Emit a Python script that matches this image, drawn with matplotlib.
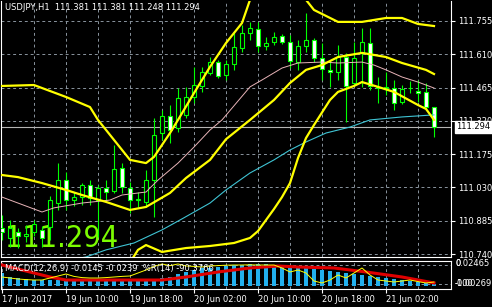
import matplotlib
matplotlib.use('Agg')
import matplotlib.pyplot as plt
import matplotlib.transforms as mtransforms
from matplotlib import font_manager

header = 'USDJPY,H1  111.381 111.381 111.248 111.294'
macd_caption = 'MACD(12,26,9) -0.0145 -0.0239  %R(14) -90.3766'
last_price = 111.294

# hourly candles
opens = [110.853, 110.810, 110.836, 110.819, 110.836, 110.845, 110.858, 110.962, 111.062, 110.975,
         110.988, 111.041, 110.975, 111.028, 111.015, 111.115, 111.028, 110.975, 110.967, 111.062,
         111.267, 111.341, 111.289, 111.346, 111.424, 111.472, 111.529, 111.576, 111.520, 111.568,
         111.637, 111.703, 111.720, 111.646, 111.664, 111.690, 111.664, 111.576, 111.646, 111.672,
         111.594, 111.542, 111.533, 111.598, 111.485, 111.616, 111.659, 111.468, 111.463, 111.463,
         111.402, 111.463, 111.450, 111.446, 111.381]
highs = [110.910, 110.888, 110.853, 110.866, 110.888, 110.862, 110.993, 111.136, 111.097, 111.010,
         111.049, 111.062, 111.041, 111.062, 111.215, 111.136, 111.054, 111.010, 111.106, 111.333,
         111.367, 111.389, 111.463, 111.468, 111.555, 111.555, 111.598, 111.585, 111.585, 111.703,
         111.738, 111.751, 111.751, 111.685, 111.707, 111.698, 111.694, 111.672, 111.790, 111.681,
         111.659, 111.585, 111.651, 111.616, 111.664, 111.725, 111.725, 111.511, 111.533, 111.498,
         111.476, 111.494, 111.498, 111.485, 111.381]
lows = [110.801, 110.771, 110.766, 110.792, 110.819, 110.771, 110.801, 110.932, 110.932, 110.949,
        110.954, 110.954, 110.814, 110.975, 111.006, 111.006, 110.919, 110.945, 110.945, 110.901,
        111.237, 111.224, 111.272, 111.333, 111.398, 111.446, 111.520, 111.507, 111.498, 111.542,
        111.620, 111.672, 111.620, 111.629, 111.651, 111.655, 111.550, 111.542, 111.620, 111.576,
        111.498, 111.468, 111.498, 111.315, 111.472, 111.468, 111.455, 111.398, 111.433, 111.367,
        111.394, 111.441, 111.402, 111.367, 111.248]
closes = [110.836, 110.853, 110.819, 110.827, 110.871, 110.810, 110.975, 111.062, 110.975, 110.988,
          111.041, 110.984, 111.028, 111.010, 111.110, 111.032, 110.975, 110.980, 111.062, 111.258,
          111.341, 111.280, 111.420, 111.424, 111.476, 111.533, 111.576, 111.515, 111.568, 111.642,
          111.703, 111.725, 111.646, 111.659, 111.685, 111.664, 111.581, 111.646, 111.672, 111.594,
          111.546, 111.533, 111.598, 111.472, 111.594, 111.664, 111.472, 111.463, 111.468, 111.398,
          111.459, 111.464, 111.441, 111.380, 111.294]

price_levels = [111.755, 111.610, 111.465, 111.320, 111.175, 111.030, 110.885, 110.740]
time_labels = ['17 Jun 2017', '19 Jun 10:00', '19 Jun 18:00', '20 Jun 02:00',
               '20 Jun 10:00', '20 Jun 18:00', '21 Jun 02:00']
time_label_bars = [0, 8, 16, 24, 32, 40, 48]

# bollinger bands (bar position, price)
bb_upper_bars = [0, 4, 8, 11, 12, 14, 16, 18, 19, 21, 22, 24, 26, 28, 30, 31, 35, 38, 39, 42, 45, 48, 50, 52, 54]
bb_upper = [111.472, 111.476, 111.424, 111.380, 111.324, 111.237, 111.150, 111.136, 111.163, 111.267,
            111.324, 111.441, 111.555, 111.659, 111.746, 111.847, 111.912, 111.847, 111.803, 111.751,
            111.751, 111.768, 111.768, 111.742, 111.733]
bb_mid_bars = [0, 2, 5, 8, 10, 13, 16, 18, 21, 23, 26, 28, 31, 34, 36, 38, 40, 42, 45, 48, 50, 53, 54]
bb_mid = [111.084, 111.075, 111.049, 111.019, 110.997, 110.967, 110.932, 110.945, 111.006, 111.071,
          111.150, 111.240, 111.324, 111.411, 111.485, 111.542, 111.563, 111.598, 111.616, 111.598,
          111.572, 111.542, 111.524]
bb_low_bars = [15, 17, 18, 20, 23, 26, 29, 31, 32, 34, 35, 36, 37, 38, 39, 41, 42, 44, 45, 47, 49, 52, 53, 54]
bb_low = [110.649, 110.758, 110.779, 110.749, 110.766, 110.775, 110.788, 110.810, 110.840, 110.936,
          110.988, 111.049, 111.158, 111.245, 111.302, 111.411, 111.446, 111.472, 111.489, 111.468,
          111.446, 111.389, 111.372, 111.324]

# moving averages
ma_fast_bars = [0, 2, 5, 6.5, 10, 13.5, 15, 18, 19.5, 22, 24, 26, 27.5, 31, 32.5, 35, 37, 40, 42, 45,
                46.5, 48, 50, 52, 54]
ma_fast = [110.988, 110.962, 110.923, 110.941, 110.962, 110.975, 110.997, 111.010, 111.062, 111.136,
           111.206, 111.280, 111.324, 111.468, 111.498, 111.550, 111.572, 111.576, 111.572, 111.576,
           111.563, 111.542, 111.511, 111.489, 111.463]
ma_slow_bars = [6, 10.5, 13, 16.5, 20, 22.5, 26, 28, 31, 34, 36, 38, 40.5, 43.5, 46, 50, 54]
ma_slow = [110.700, 110.727, 110.758, 110.788, 110.845, 110.893, 110.962, 111.019, 111.093, 111.150,
           111.193, 111.228, 111.267, 111.293, 111.324, 111.337, 111.346]

# sub window
macd_hist = [0.0146, 0.0101, 0.0090, 0.0078, 0.0070, 0.0067, 0.0067, 0.0067, 0.0062, 0.0062,
             0.0062, 0.0062, 0.0062, 0.0062, 0.0062, 0.0062, 0.0062, 0.0062, 0.0062, 0.0067,
             0.0090, 0.0101, 0.0134, 0.0157, 0.0179, 0.0202, 0.0207, 0.0213, 0.0224, 0.0235,
             0.0240, 0.0246, 0.0246, 0.0244, 0.0238, 0.0232, 0.0222, 0.0210, 0.0200, 0.0190,
             0.0178, 0.0168, 0.0157, 0.0146, 0.0134, 0.0123, 0.0112, 0.0101, 0.0090, 0.0078,
             0.0067, 0.0056, 0.0045, 0.0034, 0.0022]
signal_bars = [0, 2.5, 6, 8, 20, 23, 27, 31, 34.5, 37, 41.5, 45.5, 50, 54]
signal = [0.0235, 0.0179, 0.0101, 0.0067, 0.0067, 0.0101, 0.0157, 0.0202, 0.0224, 0.0213,
          0.0202, 0.0157, 0.0101, 0.0034]
wpr = [-65, -70, -75, -78, -80, -80, -70, -60, -50, -62, -68, -70, -70, -68, -65, -62, -60, -45, -30, -12,
       0, -8, 0, -10, -12, -15, -10, -8, -6, -5, -5, -4, -5, -5, -5, -20, -40, -30, -45, -85,
       -95, -80, -55, -70, -45, -20, -55, -80, -85, -90, -85, -80, -88, -95, -90]

W, H = 492, 307
GRID = '#8a949e'
DASH = (0, (3, 3))
CANDLE = '#00ff00'


def narrow_font():
    # a condensed DejaVu face if one is installed, else the mono face
    for f in font_manager.fontManager.ttflist:
        if f.name == 'DejaVu Sans' and 'condensed' in str(f.stretch) and f.style == 'normal' \
                and f.weight in ('normal', 400, 'regular'):
            return font_manager.FontProperties(fname=f.fname, size=22)
    return font_manager.FontProperties(family='DejaVu Sans Mono', size=21)


fig = plt.figure(figsize=(W / 100, H / 100), dpi=100, facecolor='black')
ax = fig.add_axes([1 / W, 50 / H, 450 / W, 256 / H], facecolor='black')
sub = fig.add_axes([1 / W, 18 / H, 450 / W, 28 / H], facecolor='black')

n = len(closes)
bars = list(range(n))
for a in (ax, sub):
    a.set_xlim(-0.125, 56.125)
    for s in a.spines.values():
        s.set_color('white')
        s.set_linewidth(0.8)
ax.spines['top'].set_visible(False)

ax.set_ylim(110.727, 111.842)

# grid
ax.set_xticks(range(4, 56, 4))
ax.set_yticks(price_levels)
ax.grid(True, color=GRID, linestyle=DASH, linewidth=0.7, zorder=0)
ax.set_axisbelow(True)
ax.tick_params(axis='x', length=0, labelbottom=False)
ax.yaxis.tick_right()
ax.set_yticklabels(['%.3f' % p for p in price_levels])
ax.tick_params(axis='y', colors='white', labelsize=6, length=3, width=0.8, pad=2)

# big price text
ax.text(0.009, 0.039, '%.3f' % last_price, transform=ax.transAxes, color='#7cfc00',
        fontproperties=narrow_font(), va='baseline', ha='left', zorder=1)

# candles
for i in bars:
    o, h, l, c = opens[i], highs[i], lows[i], closes[i]
    ax.plot([i, i], [l, h], color=CANDLE, lw=0.8, zorder=3, solid_capstyle='butt')
    fill = 'black' if c >= o else 'white'
    ax.bar(i, abs(c - o), bottom=min(o, c), width=0.55, color=fill, edgecolor=CANDLE,
           linewidth=0.8, zorder=4)

# indicators
ax.plot(ma_slow_bars, ma_slow, color='#3fc4d4', lw=0.8, zorder=5)
ax.plot(ma_fast_bars, ma_fast, color='#e8b4b8', lw=0.7, zorder=5)
for xs, ys in ((bb_upper_bars, bb_upper), (bb_mid_bars, bb_mid), (bb_low_bars, bb_low)):
    ax.plot(xs, ys, color='#ffff00', lw=1.6, zorder=6)

# bid line and price tag
ax.axhline(last_price, color='#b4b4b4', lw=0.8, zorder=2)
ax.text(1.012, last_price, '%.3f' % last_price,
        transform=mtransforms.blended_transform_factory(ax.transAxes, ax.transData),
        color='black', fontsize=6, va='center', ha='left', clip_on=False, zorder=10,
        bbox=dict(boxstyle='square,pad=0.15', facecolor='white', edgecolor='white'))

fig.text(5 / W, 1 - 8 / H, header, color='white', fontsize=6, va='center', ha='left')

# sub window: MACD + %R
sub.set_ylim(-0.00336, 0.02801)
sub.bar(bars, macd_hist, width=0.5, color='#22b0ee', zorder=2)
sub.plot(signal_bars, signal, color='#e00000', lw=2.2, zorder=3)
wax = sub.twinx()
wax.set_ylim(-125, 15)
wax.plot(bars, wpr, color='#ffff00', lw=0.7, zorder=4)
wax.set_yticks([])
wax.set_xlim(-0.125, 56.125)
for s in wax.spines.values():
    s.set_visible(False)

sub.set_yticks([])
sub.set_xticks(time_label_bars)
sub.set_xticklabels(time_labels)
for lbl in sub.get_xticklabels():
    lbl.set_ha('left')
sub.set_xticks(range(4, 56, 4), minor=True)
sub.tick_params(axis='x', which='major', colors='white', labelsize=6, length=3, width=0.8, pad=1)
sub.tick_params(axis='x', which='minor', length=0)
sub.grid(True, which='both', axis='x', color=GRID, linestyle=DASH, linewidth=0.7)
sub.set_axisbelow(True)
for frac in (0.857, 0.179):
    sub.plot([0, 1], [frac, frac], transform=sub.transAxes, color=GRID, linestyle=DASH, lw=0.7, zorder=1)

fig.text(5 / W, 1 - 269 / H, macd_caption, color='white', fontsize=6, va='center', ha='left', zorder=10)
for txt, ypx in (('0.02465', 264), ('0', 264), ('-0.00269', 284), ('-100', 284)):
    fig.text(455 / W, 1 - ypx / H, txt, color='white', fontsize=6, va='center', ha='left')

fig.savefig('out.png', dpi=100, facecolor='black')
